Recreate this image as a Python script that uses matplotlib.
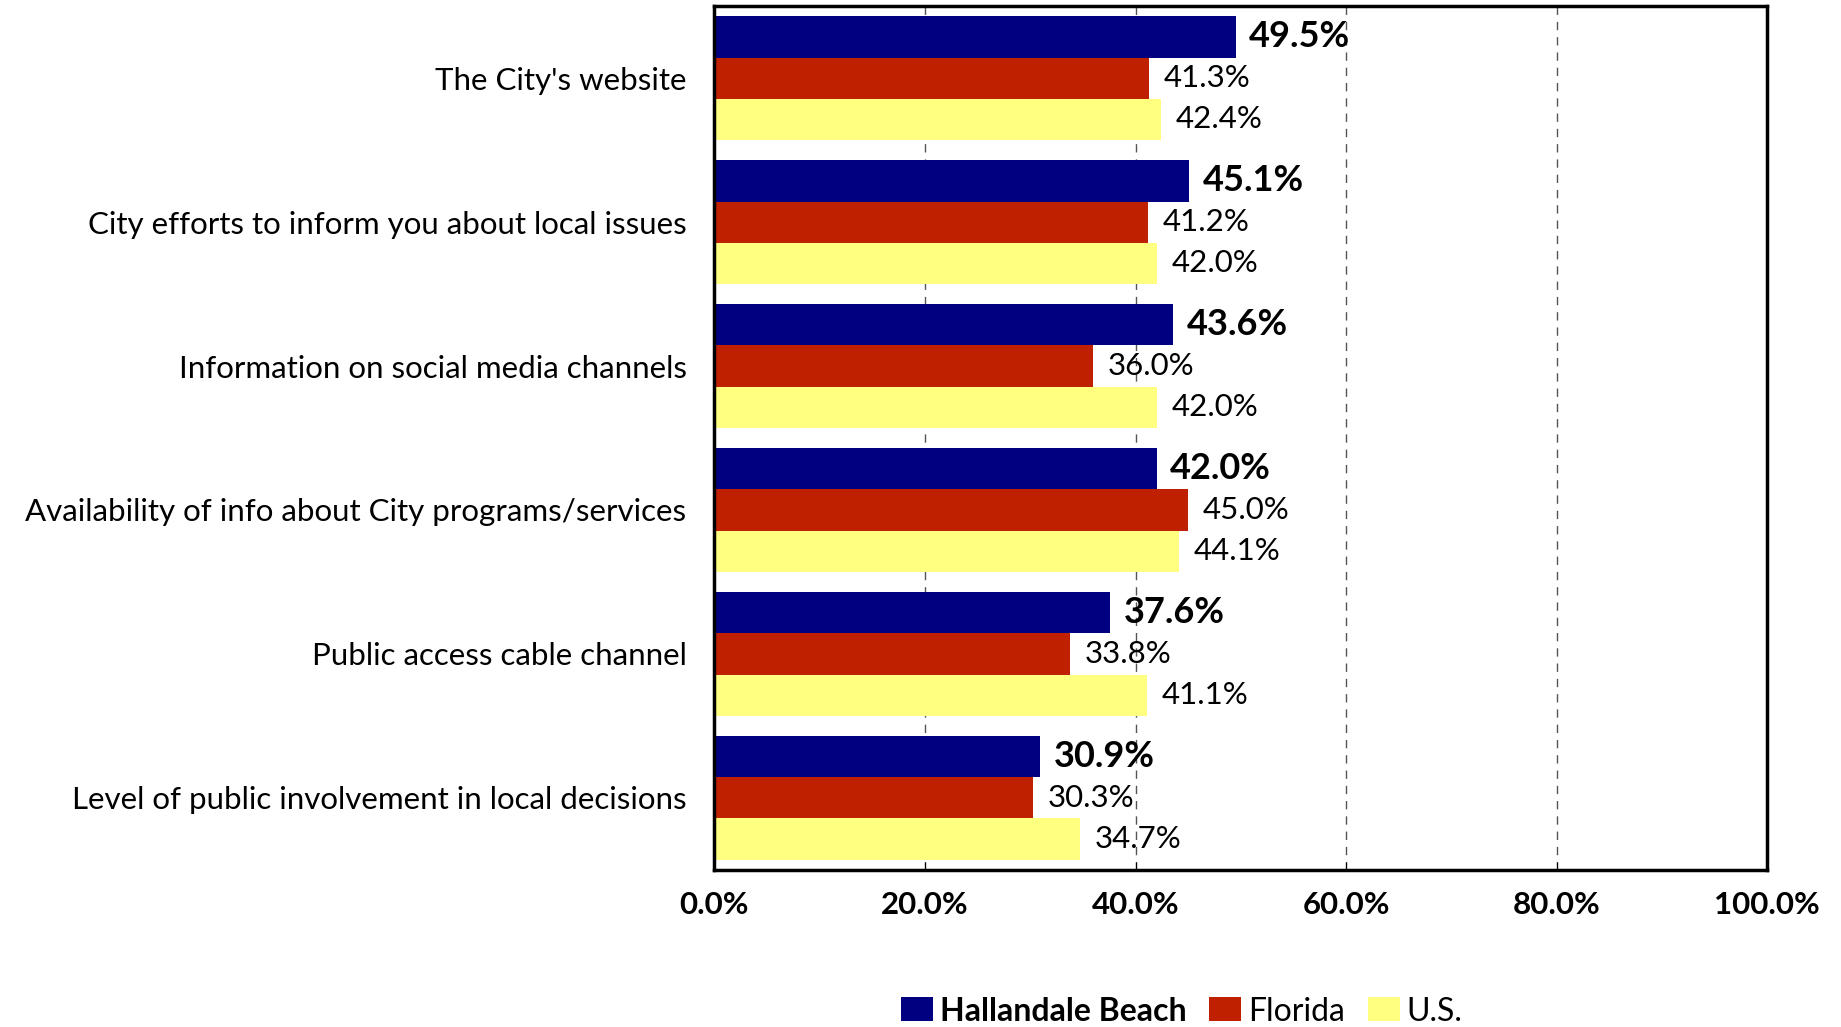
import matplotlib
matplotlib.use("Agg")
import matplotlib.pyplot as plt
import numpy as np
from matplotlib.patches import Patch

plt.rcParams['font.family'] = ['Lato', 'DejaVu Sans']

categories = ["The City's website",
              "City efforts to inform you about local issues",
              "Information on social media channels",
              "Availability of info about City programs/services",
              "Public access cable channel",
              "Level of public involvement in local decisions"]
hallandale = [49.5, 45.1, 43.6, 42.0, 37.6, 30.9]
florida = [41.3, 41.2, 36.0, 45.0, 33.8, 30.3]
us = [42.4, 42.0, 42.0, 44.1, 41.1, 34.7]
series_names = ["Hallandale Beach", "Florida", "U.S."]
colors = ["#000080", "#BF2000", "#FFFF80"]
xticks = [0, 20, 40, 60, 80, 100]

fig = plt.figure(figsize=(18.41, 10.27), dpi=100)
ax = fig.add_axes([0.388, 0.153, 0.572, 0.841])

y = np.arange(len(categories))
h = 0.286
ax.barh(y - h, hallandale, height=h, color=colors[0], zorder=2)
ax.barh(y, florida, height=h, color=colors[1], zorder=2)
ax.barh(y + h, us, height=h, color=colors[2], zorder=2)

for i in range(len(categories)):
    ax.text(hallandale[i] + 1.3, y[i] - h, f"{hallandale[i]:.1f}%", va="center", ha="left",
            fontsize=26, fontweight="bold", zorder=3)
    ax.text(florida[i] + 1.4, y[i], f"{florida[i]:.1f}%", va="center", ha="left",
            fontsize=22.5, zorder=3)
    ax.text(us[i] + 1.4, y[i] + h, f"{us[i]:.1f}%", va="center", ha="left",
            fontsize=22.5, zorder=3)

ax.set_xlim(0, 100)
ax.set_ylim(len(categories) - 0.5, -0.5)
ax.set_yticks(y)
ax.set_yticklabels(categories, fontsize=22.5)
ax.set_xticks(xticks)
ax.set_xticklabels([f"{t:.1f}%" for t in xticks], fontsize=22.5, fontweight="bold")
ax.tick_params(axis="y", length=0, pad=20)
ax.tick_params(axis="x", direction="in", length=6, width=0.8, pad=15)
ax.xaxis.grid(True, linestyle=(0, (6, 5)), color="#555555", linewidth=1, zorder=0)
ax.set_axisbelow(True)
for s in ax.spines.values():
    s.set_linewidth(2.5)
    s.set_color("black")

handles = [Patch(facecolor=c, edgecolor="none") for c in colors]
leg = fig.legend(handles, series_names, loc="center", bbox_to_anchor=(0.642, 0.015),
                 ncol=3, frameon=False, fontsize=23, handlelength=1.0, handleheight=0.78,
                 handletextpad=0.22, columnspacing=0.7)
leg.get_texts()[0].set_fontweight("bold")

fig.savefig("out.png", dpi=100)
